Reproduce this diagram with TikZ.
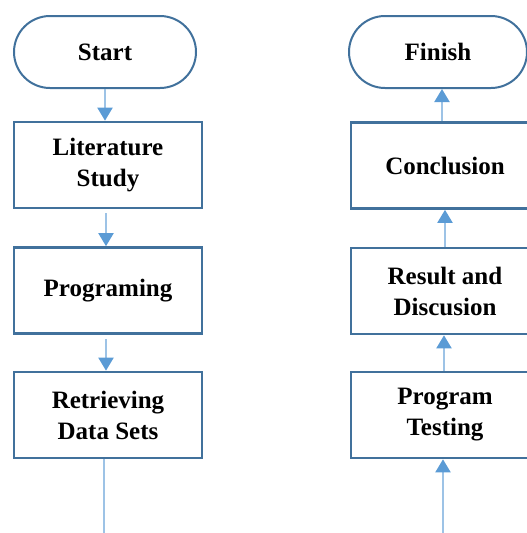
\documentclass[tikz,border=0pt]{standalone}
\usepackage{fontspec}
\setmainfont{Liberation Serif}
\usetikzlibrary{arrows.meta}
\definecolor{boxline}{HTML}{41719C}
\definecolor{arrline}{HTML}{9DC3E6}
\definecolor{arrhead}{HTML}{5B9BD5}
\tikzset{
  box/.style={draw=boxline, line width=2.6pt, minimum width=188pt, minimum height=86pt,
    align=center, font=\bfseries\fontsize{25}{31}\selectfont},
  pill/.style={box, rounded corners=36pt, line width=2pt, minimum height=72pt},
  arr/.style={draw=arrline, line width=2pt,
    -{Triangle[length=13pt,width=15pt,fill=arrhead,color=arrhead]}},
  plain/.style={draw=arrline, line width=2pt},
}
\begin{document}
\begin{tikzpicture}[x=1pt, y=-1pt]
  \useasboundingbox (0,0) rectangle (527,533);
  \clip (0,0) rectangle (527,533);

  % left column
  \node[pill, minimum width=182pt] (start) at (105,52) {Start};
  \node[box] (lit) at (108,165) {Literature\\Study};
  \node[box] (prog) at (108,290.5) {Programing};
  \node[box] (retr) at (108,415) {Retrieving\\Data Sets};

  % right column
  \node[pill, minimum width=178pt] (finish) at (438,52) {Finish};
  \node[box] (concl) at (445,165.5) {Conclusion};
  \node[box] (result) at (445,291) {Result and\\Discusion};
  \node[box] (test) at (445,415) {Program\\Testing};

  \coordinate (leftend) at (104,545);
  \coordinate (rightend) at (443,545);

  \draw[arr] (start.south) -- (start.south |- lit.north);
  \draw[arr] ([xshift=-2pt,yshift=-4pt]lit.south) -- ([xshift=-2pt]lit.south |- prog.north);
  \draw[arr] ([xshift=-2pt,yshift=-4pt]prog.south) -- ([xshift=-2pt]prog.south |- retr.north);
  \draw[plain] ([xshift=-4pt]retr.south) -- ([xshift=-4pt]retr.south |- leftend);

  \draw[arr] ([xshift=-3pt]concl.north) -- ([xshift=-3pt]concl.north |- finish.south);
  \draw[arr] (result.north) -- (result.north |- concl.south);
  \draw[arr] ([xshift=-1pt]test.north) -- ([xshift=-1pt]test.north |- result.south);
  \draw[arr] (rightend) -- (rightend |- test.south);
\end{tikzpicture}
\end{document}
